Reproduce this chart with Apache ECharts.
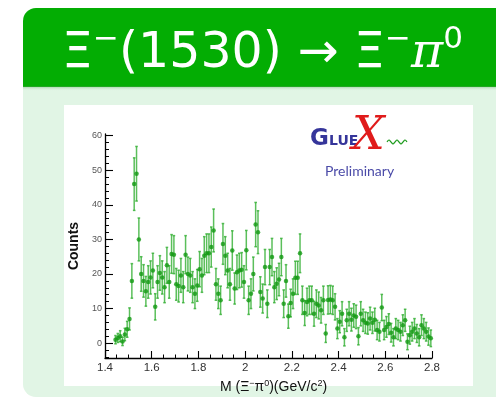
<!DOCTYPE html>
<html>
<head>
<meta charset="utf-8">
<script src="https://cdn.jsdelivr.net/npm/echarts@6/dist/echarts.min.js"></script>
<style>
  html, body { margin: 0; padding: 0; background: #ffffff; }
  #chart { width: 496px; height: 398px; }
</style>
</head>
<body>
<div id="chart"></div>
<script>
// Histogram binning of the Xi- pi0 invariant mass (GeV/c^2)
const binLow = 1.44;
const binWidth = 0.01;

// Background-subtracted counts per bin
const counts = [
  1, 1.5, 2, 0.5, 2.5, 4, 7, 18, 46, 49,
  30, 20, 18, 15, 17.7, 19, 21, 10.5, 17.7, 20.3,
  19, 16.2, 22.5, 17.7, 25.8, 25.6, 17, 16.5, 19.6, 16.2,
  25.6, 20, 19.6, 16.2, 14.3, 16.7, 21.4, 19.6, 25.3, 26,
  26, 27.8, 32.6, 17, 14.3, 12.4, 28.7, 25.3, 21, 17,
  26.8, 15.8, 20.5, 21, 21.2, 17.7, 26.9, 12.4, 14.3, 20,
  34.3, 32.1, 14.8, 12.9, 22, 11.4, 22, 24.9, 16.2, 17.2,
  18.4, 24.9, 11.4, 18, 7.8, 11.6, 14.3, 18.9, 18.9, 26,
  12.4, 8.7, 11.9, 12.4, 12.4, 8.5, 11.4, 10.9, 9.5, 12.4,
  2.8, 12.5, 12.6, 12.4, 10.5, 4.2, 6.2, 8.5, 1.7, 6.6,
  8.5, 6.8, 8, 7.6, 2, 8.5, 6.6, 5.9, 5.7, 7.1,
  5.9, 6.8, 3.8, 3.3, 10.3, 3.8, 4.7, 5.5, 3, 1.7,
  4.2, 3.8, 3.3, 5.2, 6.6, 0.4, 2.3, 3.3, 4.2, 2.8,
  1.7, 5.2, 4.2, 3.3, 1.9, 1.4
];

// Statistical uncertainty per bin
const errors = [
  1.2, 1.3, 1.6, 1.2, 1.8, 2.3, 3.2, 5.0, 7.6, 7.9,
  6.2, 5.0, 4.7, 4.3, 4.7, 4.8, 5.0, 3.8, 4.7, 5.0,
  4.8, 4.5, 5.2, 4.7, 5.6, 5.5, 4.6, 4.6, 4.9, 4.5,
  5.5, 4.9, 4.9, 4.5, 4.3, 4.6, 5.1, 4.9, 5.5, 5.6,
  5.6, 5.8, 6.2, 4.6, 4.3, 4.1, 5.9, 5.5, 5.0, 4.6,
  5.7, 4.5, 5.0, 5.0, 5.0, 4.7, 5.7, 4.1, 4.3, 4.9,
  6.4, 6.2, 4.4, 4.2, 5.1, 4.0, 5.1, 5.4, 4.5, 4.6,
  4.7, 5.4, 4.0, 4.7, 3.5, 4.0, 4.3, 4.8, 4.8, 5.6,
  4.1, 3.6, 4.0, 4.1, 4.1, 3.6, 4.0, 3.9, 3.7, 4.1,
  2.6, 4.1, 4.1, 4.1, 3.8, 2.9, 3.2, 3.5, 2.5, 3.2,
  3.5, 3.3, 3.4, 3.4, 2.5, 3.5, 3.2, 3.1, 3.1, 3.3,
  3.1, 3.3, 2.8, 2.7, 3.8, 2.8, 3.0, 3.0, 2.7, 2.5,
  2.9, 2.8, 2.7, 3.0, 3.2, 2.3, 2.6, 2.7, 2.9, 2.6,
  2.5, 3.0, 2.9, 2.7, 2.5, 2.4
];

// Axis ticks
const xTickLabels = [1.4, 1.6, 1.8, 2, 2.2, 2.4, 2.6, 2.8];
const xMinorTicks = [1.45, 1.5, 1.55, 1.65, 1.7, 1.75, 1.85, 1.9, 1.95, 2.05, 2.1, 2.15,
                     2.25, 2.3, 2.35, 2.45, 2.5, 2.55, 2.65, 2.7, 2.75];
const yTickLabels = [0, 10, 20, 30, 40, 50, 60];
const yMinorTicks = [-4, -2, 2, 4, 6, 8, 12, 14, 16, 18, 22, 24, 26, 28, 32, 34, 36, 38,
                     42, 44, 46, 48, 52, 54, 56, 58];

const points = counts.map((c, i) => [binLow + binWidth * (i + 0.5), c, errors[i]]);

const chart = echarts.init(document.getElementById('chart'), null, { renderer: 'canvas' });

const X_MIN = 1.4, X_MAX = 2.8, Y_MIN = -4.3, Y_MAX = 60.5;
const axisFont = 'Liberation Sans, Arial, sans-serif';

chart.setOption({
  animation: false,
  backgroundColor: '#ffffff',
  grid: { left: 105, right: 64, top: 134, bottom: 40, outerBoundsMode: 'none', containLabel: false },
  xAxis: [
    {
      type: 'value', min: X_MIN, max: X_MAX, position: 'bottom',
      axisLine: { show: true, onZero: false, lineStyle: { color: '#000', width: 1.3 } },
      axisTick: { show: true, inside: true, length: 7, customValues: xTickLabels,
                  lineStyle: { color: '#000', width: 1.1 } },
      axisLabel: { show: true, customValues: xTickLabels, margin: 4,
                   formatter: v => String(+v.toFixed(1)),
                   fontFamily: axisFont, fontSize: 11.5, color: '#333' },
      splitLine: { show: false },
      name: 'M (Ξ{s|−}π{s|0})(GeV/c{s|2})',
      nameLocation: 'middle', nameGap: 20,
      nameTextStyle: {
        fontFamily: axisFont, fontSize: 14, color: '#111', padding: [0, 0, 0, 10],
        rich: { s: { fontFamily: axisFont, fontSize: 9, color: '#111', verticalAlign: 'top', padding: [0, 0, 7, 0] } }
      }
    },
    {
      type: 'value', min: X_MIN, max: X_MAX, position: 'bottom', offset: 0,
      axisLine: { show: false, onZero: false },
      axisTick: { show: true, inside: true, length: 3.5, customValues: xMinorTicks,
                  lineStyle: { color: '#000', width: 1 } },
      axisLabel: { show: false },
      splitLine: { show: false }
    }
  ],
  yAxis: [
    {
      type: 'value', min: Y_MIN, max: Y_MAX, position: 'left',
      axisLine: { show: true, onZero: false, lineStyle: { color: '#000', width: 1.3 } },
      axisTick: { show: true, inside: true, length: 8, customValues: yTickLabels,
                  lineStyle: { color: '#000', width: 1.1 } },
      axisLabel: { show: true, customValues: yTickLabels, margin: 3,
                   fontFamily: axisFont, fontSize: 9, color: '#555' },
      splitLine: { show: false },
      name: 'Counts', nameLocation: 'middle', nameGap: 23, nameRotate: 90,
      nameTextStyle: { fontFamily: axisFont, fontSize: 14, fontWeight: 'bold', color: '#111' }
    },
    {
      type: 'value', min: Y_MIN, max: Y_MAX, position: 'left', offset: 0,
      axisLine: { show: false, onZero: false },
      axisTick: { show: true, inside: true, length: 4, customValues: yMinorTicks,
                  lineStyle: { color: '#000', width: 1 } },
      axisLabel: { show: false },
      splitLine: { show: false }
    }
  ],
  series: [
    {
      type: 'custom',
      xAxisIndex: 0, yAxisIndex: 0,
      data: points,
      z: 3,
      renderItem: (params, api) => {
        const x = api.value(0), y = api.value(1), e = api.value(2);
        const lo = api.coord([x, y - e]);
        const hi = api.coord([x, y + e]);
        const stroke = { stroke: 'rgba(50,175,50,0.8)', lineWidth: 1.5 };
        return {
          type: 'group',
          children: [
            { type: 'line', shape: { x1: lo[0], y1: lo[1], x2: hi[0], y2: hi[1] }, style: stroke },
            { type: 'line', shape: { x1: lo[0] - 1.3, y1: lo[1], x2: lo[0] + 1.3, y2: lo[1] }, style: stroke },
            { type: 'line', shape: { x1: hi[0] - 1.3, y1: hi[1], x2: hi[0] + 1.3, y2: hi[1] }, style: stroke }
          ]
        };
      }
    },
    {
      type: 'scatter',
      xAxisIndex: 0, yAxisIndex: 0,
      data: points.map(p => [p[0], p[1]]),
      symbol: 'circle', symbolSize: 4.5,
      itemStyle: { color: '#129812' },
      z: 4
    }
  ],
  graphic: [
    // slide body
    { type: 'rect', z: -30, shape: { x: 23, y: 84, width: 520, height: 313, r: [0, 0, 0, 13] },
      style: { fill: '#e1f5e5' } },
    // slide header
    { type: 'rect', z: -20, shape: { x: 23, y: 8, width: 520, height: 79, r: [13, 0, 0, 0] },
      style: { fill: '#03ad03' } },
    { type: 'rect', z: -20, shape: { x: 23, y: 86, width: 520, height: 5 },
      style: { fill: new echarts.graphic.LinearGradient(0, 0, 0, 1, [
        { offset: 0, color: 'rgba(60,150,60,0.45)' }, { offset: 1, color: 'rgba(225,245,229,0)' }]) } },
    // plot canvas
    { type: 'rect', z: -10, shape: { x: 64, y: 105, width: 409, height: 281 },
      style: { fill: '#ffffff' } },
    // slide title
    { type: 'text', z: 10, x: 62, y: 24,
      style: {
        text: '{a|Ξ}{s|−}{a|(1530) → Ξ}{s|−}{p|π}{s|0}',
        rich: {
          a: { fontFamily: 'DejaVu Sans, sans-serif', fontSize: 49, fill: '#ffffff', lineHeight: 60, verticalAlign: 'middle' },
          p: { fontFamily: 'DejaVu Serif, serif', fontStyle: 'italic', fontSize: 49, fill: '#ffffff', lineHeight: 60, verticalAlign: 'middle' },
          s: { fontFamily: 'DejaVu Sans, sans-serif', fontSize: 31, fill: '#ffffff', lineHeight: 38, verticalAlign: 'top' }
        }
      } },
    // GlueX logo
    { type: 'text', z: 10, x: 310, y: 128,
      style: { text: 'G', fontFamily: 'DejaVu Sans, sans-serif', fontWeight: 'bold', fontSize: 23, fill: '#35359a' } },
    { type: 'text', z: 10, x: 329, y: 134,
      style: { text: 'LUE', fontFamily: 'DejaVu Sans, sans-serif', fontWeight: 'bold', fontSize: 14, fill: '#35359a' } },
    { type: 'text', z: 11, x: 352, y: 114,
      style: { text: 'X', fontFamily: 'DejaVu Serif, serif', fontStyle: 'italic', fontSize: 46, fill: '#e01b1b' } },
    { type: 'polyline', z: 10,
      shape: { points: [[387, 142], [389, 140], [391, 142], [393, 144], [395, 142], [397, 140], [399, 142],
                        [401, 144], [403, 142], [405, 140], [407, 142]], smooth: 0.4 },
      style: { stroke: '#1b9a1b', lineWidth: 1.2, fill: null } },
    { type: 'text', z: 10, x: 325, y: 164,
      style: { text: 'Preliminary', fontFamily: 'Lato, Open Sans, sans-serif', fontSize: 14, fill: '#4b4ba8' } }
  ]
});
</script>
</body>
</html>
